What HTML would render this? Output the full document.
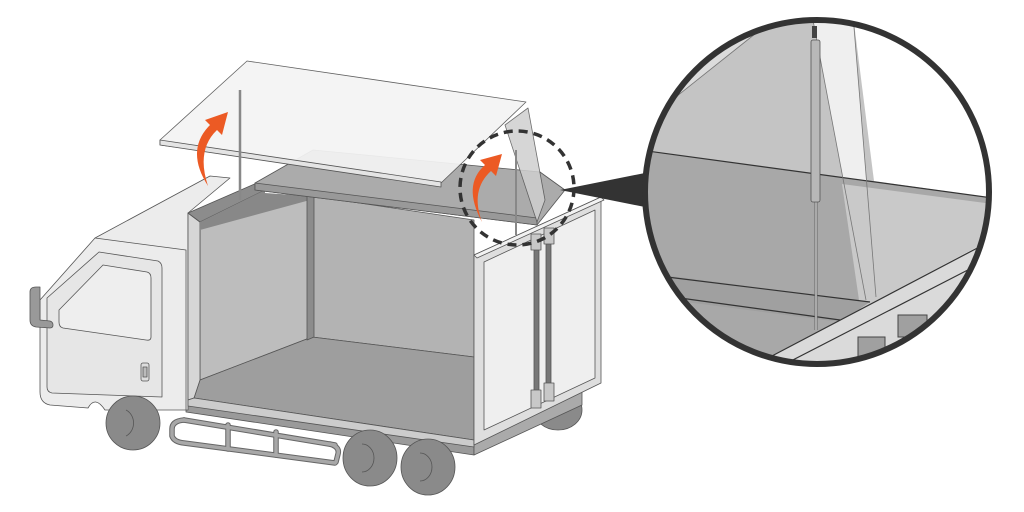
<!DOCTYPE html>
<html><head><style>html,body{margin:0;padding:0;background:#fff}svg{display:block}</style></head>
<body>
<svg width="1024" height="512" viewBox="0 0 1024 512" xmlns="http://www.w3.org/2000/svg">
<defs>
<clipPath id="cc"><circle cx="817" cy="192" r="172"/></clipPath>
</defs>
<g stroke="#555" stroke-width="0.8" stroke-linejoin="round">
<ellipse cx="558" cy="410" rx="24" ry="20" fill="#8a8a8a"/>
<polygon points="186,400 474,440 474,455 186,412" fill="#9a9a9a"/>
<polygon points="474,440 582,392 582,405 474,455" fill="#aaa"/>
<g fill="none" stroke="#666" stroke-width="5.5" stroke-linecap="round">
<path d="M184,420 Q172,421 172,429 L172,436 Q174,442 184,443 L335,463"/>
<path d="M184,420 L335,445"/>
<path d="M228,425 L228,449 M276,432 L276,455 M330,444 Q340,447 338,454 L336,462"/>
</g>
<g fill="none" stroke="#a8a8a8" stroke-width="3.5" stroke-linecap="round">
<path d="M184,420 Q172,421 172,429 L172,436 Q174,442 184,443 L335,463"/>
<path d="M184,420 L335,445"/>
<path d="M228,425 L228,449 M276,432 L276,455 M330,444 Q340,447 338,454 L336,462"/>
</g>
<path d="M95,238 L210,176 L230,178 L188,213 L188,410 L105,410 Q95,395 88,408 L50,405 Q40,403 40,392 L40,300 Z" fill="#ececec"/>
<path d="M95,238 L186,250 L186,410" fill="none"/>
<path d="M47,298 L99,252 L158,261 Q162,263 162,268 L162,397 L52,393 Q47,392 47,387 Z" fill="#e6e6e6"/>
<path d="M103,265 L147,272 Q151,273 151,278 L151,337 Q151,341 146,340 L63,328 Q59,327 59,322 L59,310 Z" fill="#eeeeee"/>
<rect x="141" y="363" width="8" height="18" rx="2" fill="#ddd"/>
<rect x="143" y="367" width="4" height="10" fill="#bbb"/>
<path d="M30,292 Q30,287 36,287 L40,287 L40,320 L50,321 Q53,322 53,325 Q53,328 50,328 L36,327 Q30,326 30,320 Z" fill="#999"/>
<polygon points="200,222 312,196 312,337 200,380" fill="#bdbdbd"/>
<polygon points="312,196 474,220 474,357 312,337" fill="#b3b3b3"/>
<polygon points="200,380 312,337 474,357 474,440 194,398" fill="#9e9e9e"/>
<polygon points="188,213 200,222 200,380 194,398 188,400" fill="#d6d6d6"/>
<polygon points="188,213 257,183 265,190 200,222" fill="#8c8c8c"/>
<polygon points="200,222 265,190 265,193 310,196 310,200 200,230" fill="#888" stroke="none"/>
<polygon points="307,196 314,196 314,337 307,340" fill="#8c8c8c"/>
<polygon points="188,400 194,398 474,440 474,447 188,406" fill="#ccc"/>
<polygon points="255,183 313,150 540,172 565,190 537,225 255,190" fill="#ababab"/>
<polygon points="255,183 537,218 537,225 255,190" fill="#999"/>
<polygon points="505,125 528,108 545,200 537,222" fill="#cfcfcf" opacity="0.85"/>
<polygon points="474,255 601,197 601,383 474,445" fill="#dedede"/>
<polygon points="484,262 595,210 595,378 484,430" fill="#efefef"/>
<polygon points="474,255 601,197 604,200 477,258" fill="#f2f2f2"/>
<g fill="#777">
<rect x="534" y="244" width="5" height="150"/>
<rect x="546" y="238" width="5" height="150"/>
</g>
<g fill="#c8c8c8">
<rect x="531" y="234" width="10" height="16"/>
<rect x="544" y="228" width="10" height="16"/>
<rect x="531" y="390" width="10" height="18"/>
<rect x="544" y="383" width="10" height="18"/>
</g>
<polygon points="160,140 247,61 526,102 441,183 160,145" fill="#f4f4f4" opacity="0.93"/>
<polygon points="160,140 441,182 441,187 160,145" fill="#e4e4e4"/>
<line x1="240" y1="90" x2="240" y2="200" stroke="#888" stroke-width="2.5"/>
<line x1="516" y1="150" x2="516" y2="235" stroke="#888" stroke-width="2"/>
<ellipse cx="133" cy="423" rx="27" ry="27" fill="#8a8a8a"/>
<path d="M126,410 A12,14 0 0 1 126,436" fill="none" stroke="#555"/>
<ellipse cx="370" cy="458" rx="27" ry="28" fill="#8a8a8a"/>
<path d="M362,444 A12,14 0 0 1 362,472" fill="none"/>
<ellipse cx="428" cy="467" rx="27" ry="28" fill="#8a8a8a"/>
<path d="M420,453 A12,14 0 0 1 420,481" fill="none"/>
</g>
<g fill="#ec5a24">
<path d="M208,186 Q185,150 210,125 L205,120 L228,112 L222,135 L217,130 Q196,150 208,186 Z"/>
<path d="M482,222 Q462,185 485,165 L480,160 L502,154 L496,176 L491,171 Q470,190 482,222 Z"/>
</g>
<circle cx="517" cy="188" r="57" fill="none" stroke="#333" stroke-width="3.5" stroke-dasharray="9,6"/>
<polygon points="560,190 650,172 650,208" fill="#333"/>
<g clip-path="url(#cc)">
<rect x="640" y="15" width="360" height="360" fill="#c4c4c4"/>
<polygon points="640,15 770,15 760,30 647,120 640,125" fill="#dcdcdc"/>
<polygon points="853,15 1000,15 1000,199 874,181" fill="#fff"/>
<polygon points="812,15 853,15 876,297 866,300" fill="#efefef"/>
<polygon points="640,150 988,198 1000,200 1000,375 640,375" fill="#a8a8a8"/>
<polygon points="842,184 1000,205 1000,375 870,375" fill="#c9c9c9"/>
<polygon points="640,272 870,302 840,322 640,296" fill="#a0a0a0"/>
<polygon points="770,357 990,240 1000,240 1000,375 780,375" fill="#dadada"/>
<g stroke="#333" stroke-width="1.2" fill="none">
<line x1="640" y1="150" x2="1000" y2="199"/>
<line x1="667" y1="277" x2="870" y2="302"/>
<line x1="680" y1="298" x2="840" y2="320"/>
<line x1="770" y1="357" x2="985" y2="244"/>
<line x1="785" y1="364" x2="995" y2="256"/>
</g>
<g stroke="#777" stroke-width="0.8" fill="none">
<line x1="812" y1="15" x2="866" y2="300"/>
<line x1="853" y1="15" x2="876" y2="297"/>
<line x1="647" y1="120" x2="760" y2="30"/>
</g>
<g stroke="#444" stroke-width="1">
<rect x="858" y="337" width="27" height="22" fill="#a0a0a0"/>
<rect x="898" y="315" width="29" height="22" fill="#a0a0a0"/>
</g>
<line x1="816" y1="200" x2="816" y2="330" stroke="#666" stroke-width="3"/>
<line x1="816" y1="200" x2="816" y2="330" stroke="#eee" stroke-width="1"/>
<rect x="811" y="40" width="9" height="162" rx="2" fill="#b8b8b8" stroke="#555" stroke-width="0.8"/>
<rect x="812" y="26" width="5" height="12" fill="#444"/>
</g>
<circle cx="817" cy="192" r="172" fill="none" stroke="#333" stroke-width="6"/>
</svg>
</body></html>
